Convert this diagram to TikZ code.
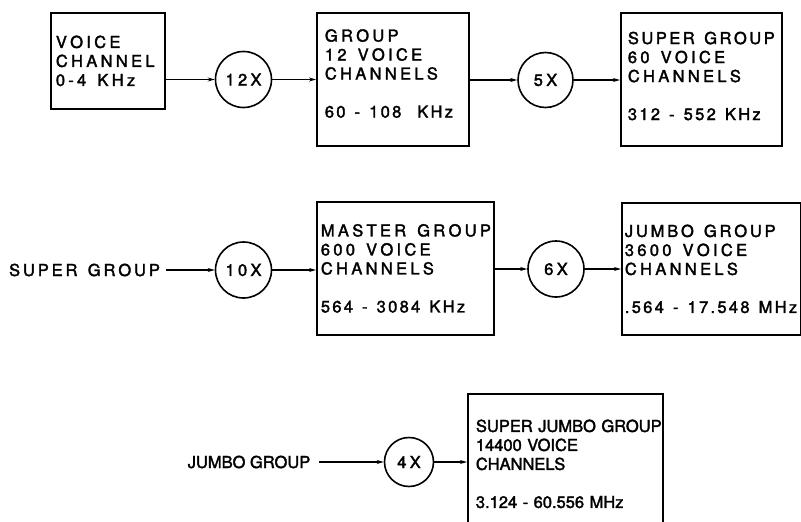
\documentclass[tikz,border=0pt]{standalone}
\usepackage{fontspec}
\setmainfont{TeX Gyre Heros}[FakeBold=2]
\usetikzlibrary{arrows.meta}

% wide letter spacing: \ls[kern]{...}, word gaps written as \gap
\def\lsk{3.3pt}
\newcommand\gap{\hspace{4.5pt}}
\newcommand\ls[2][3.3pt]{\mbox{\def\lsk{#1}\lsfirst#2\relax}}
\def\lsfirst#1{#1\lsnext}
\def\lsnext#1{\ifx#1\relax\else\kern\lsk#1\expandafter\lsnext\fi}

\tikzset{every picture/.style={line width=1pt}}
\tikzset{
  blk/.style={draw, line width=1.8pt, anchor=north west, align=left, inner xsep=8pt, inner ysep=0pt},
  mul/.style={draw, circle, line width=1.6pt, minimum size=56pt, inner sep=0pt},
  arr/.style={line width=1.3pt, -{Stealth[length=7pt,width=4pt]}}
}

\begin{document}
\begin{tikzpicture}[x=1pt,y=1pt,yscale=-1,xscale=1]
\fontsize{16.5}{19}\selectfont
\useasboundingbox (0,0) rectangle (801,522);

% first row
\node (vc) [blk, inner xsep=5pt, text width=104pt, minimum height=96pt] at (50,12) {\ls{VOICE}\\\ls{CHANNEL}\\\ls{0-4\gap KHz}};
\node (c12) [mul] at (243.5,79.5) {\ls{12X}};
\node (grp) [blk, text width=136pt, minimum height=133pt] at (316,12) {\ls{GROUP}\\\ls{12\gap VOICE}\\\ls{CHANNELS}\\[19pt]\ls[2.3pt]{60\gap-\gap108\gap\gap KHz}\rule[-12pt]{0pt}{0pt}};
\node (c5) [mul, minimum size=55pt] at (545.5,80) {\ls{5X}};
\node (sg) [blk, inner xsep=7pt, text width=147pt, minimum height=133pt] at (620,12) {\ls[2.5pt]{SUPER\gap GROUP}\\\ls{60\gap VOICE}\\\ls{CHANNELS}\\[19pt]\ls[2.3pt]{312\gap-\gap552\gap KHz}\rule[-7pt]{0pt}{0pt}};

% second row
\node (sgin) at (84.5,270) {\ls[2.9pt]{SUPER\gap GROUP}};
\node (c10) [mul] at (243.5,270) {\ls{10X}};
\node (mg) [blk, inner xsep=4pt, text width=169pt, minimum height=133pt] at (316,201) {\ls{MASTER\gap GROUP}\\\ls{600\gap VOICE}\\\ls{CHANNELS}\\[19pt]\ls[2.3pt]{564\gap-\gap3084\gap KHz}};
\node (c6) [mul] at (556,269) {\ls{6X}};
\node (jg) [blk, inner xsep=3pt, text width=173pt, minimum height=132pt] at (621,202) {\ls[2.8pt]{JUMBO\gap GROUP}\\\ls{3600\gap VOICE}\\\ls{CHANNELS}\\[19pt]\ls[2.3pt]{.564\gap-\gap17.548\gap MHz}};

% third row
\node (jgin) [inner xsep=8pt] at (249,462) {JUMBO GROUP};
\node (c4) [mul, minimum size=49pt] at (409,462) {\ls{4X}};
\node (sjg) [blk, text width=179pt, minimum height=140pt] at (467,393) {\mbox{SUPER JUMBO GROUP}\\\mbox{14400 VOICE}\\\mbox{CHANNELS}\\[19pt]\mbox{3.124 - 60.556 MHz}};

% arrows
\draw [arr] (vc.east |- c12) -- (c12);
\draw [arr] (c12) -- (c12 -| grp.west);
\draw [arr] (grp.east |- c5) -- (c5);
\draw [arr] (c5) -- (c5 -| sg.west);
\draw [arr] (sgin) -- (c10);
\draw [arr] (c10) -- (c10 -| mg.west);
\draw [arr] (mg.east |- c6) -- (c6);
\draw [arr] (c6) -- (c6 -| jg.west);
\draw [arr] (jgin) -- (c4);
\draw [arr] (c4) -- (c4 -| sjg.west);

\end{tikzpicture}
\end{document}
